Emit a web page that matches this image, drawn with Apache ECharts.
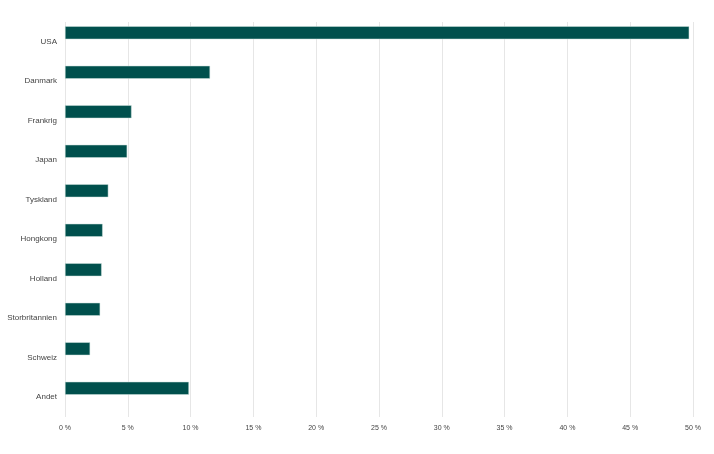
<!DOCTYPE html>
<html><head><meta charset="utf-8">
<script src="https://cdn.jsdelivr.net/npm/echarts@6/dist/echarts.min.js"></script>
<style>html,body{margin:0;padding:0;background:#fff}#c{width:714px;height:454px}</style>
</head><body><div id="c"></div>
<script>
const categories = ["USA","Danmark","Frankrig","Japan","Tyskland","Hongkong","Holland","Storbritannien","Schweiz","Andet"];
const values = [49.7, 11.55, 5.3, 4.95, 3.45, 3.0, 2.92, 2.8, 2.0, 9.87];
const emptyValues = categories.map(() => null);
const xTicks = [0, 5, 10, 15, 20, 25, 30, 35, 40, 45, 50];

const chart = echarts.init(document.getElementById('c'), null, {renderer: 'canvas'});
chart.setOption({
  animation: false,
  grid: {left: 65, right: 21, top: 22, bottom: 37, containLabel: false, outerBoundsMode: 'none'},
  xAxis: {
    type: 'value', min: xTicks[0], max: xTicks[xTicks.length - 1], interval: 5,
    axisLine: {show: false}, axisTick: {show: false},
    splitLine: {lineStyle: {color: '#e6e6e6', width: 1}},
    axisLabel: {formatter: v => v + ' %', fontFamily: '"Liberation Sans", Arial, sans-serif', fontSize: 7, color: '#444', margin: 8}
  },
  yAxis: {
    type: 'category', data: categories, inverse: true,
    axisLine: {show: false}, axisTick: {show: false},
    axisLabel: {fontFamily: '"Liberation Sans", Arial, sans-serif', fontSize: 8, color: '#444', margin: 8}
  },
  series: [
    {type: 'bar', data: values, barWidth: 13, barGap: '38%',
     itemStyle: {color: '#00504d', borderColor: '#cfe3df', borderWidth: 0.5}},
    {type: 'bar', data: emptyValues, barWidth: 13}
  ]
});
</script></body></html>
